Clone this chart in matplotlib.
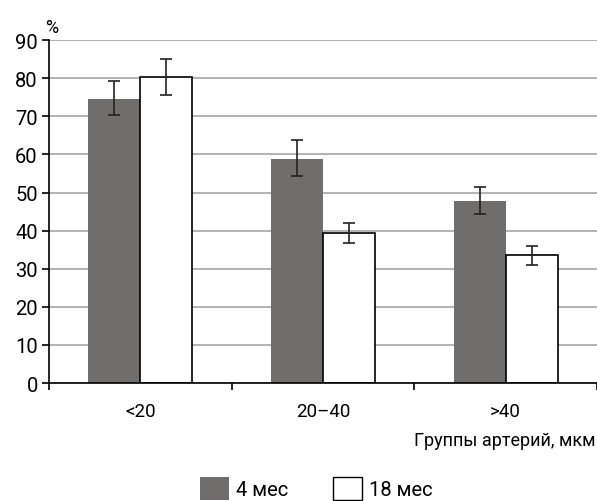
import numpy as np
import matplotlib.pyplot as plt
from matplotlib.patches import Patch

plt.rcParams['font.family'] = ['Roboto', 'DejaVu Sans']

groups = ['<20', '20–40', '>40']
m4 = [74.5, 58.8, 47.8]
m4_err_lo = [70.3, 54.3, 44.4]
m4_err_hi = [79.3, 63.8, 51.4]
m18 = [80.3, 39.5, 33.6]
m18_err_lo = [75.5, 36.7, 31.0]
m18_err_hi = [85.0, 42.1, 36.1]

gray = '#6f6e6c'

fig = plt.figure(figsize=(5.97, 5.02), dpi=100)
ax = fig.add_axes([0.082, 0.235, 0.918, 0.683])

x = np.arange(len(groups))
w = 0.285
m4 = np.array(m4)
m18 = np.array(m18)
e4 = [m4 - np.array(m4_err_lo), np.array(m4_err_hi) - m4]
e18 = [m18 - np.array(m18_err_lo), np.array(m18_err_hi) - m18]

ax.bar(x - w / 2, m4, w, color=gray, edgecolor='none', zorder=2)
ax.bar(x + w / 2, m18, w, color='white', edgecolor='black', linewidth=1.2, zorder=2)
ax.errorbar(x - w / 2, m4, yerr=e4, fmt='none', ecolor='#222222', elinewidth=1.2,
            capsize=4, capthick=1.2, zorder=3)
ax.errorbar(x + w / 2, m18, yerr=e18, fmt='none', ecolor='#222222', elinewidth=1.2,
            capsize=4, capthick=1.2, zorder=3)

ax.set_xlim(-0.5, 2.5)
ax.set_ylim(0, 90)
ax.set_yticks(range(0, 91, 10))
ax.set_xticks(x)
ax.set_xticklabels(groups, fontsize=13.5)
ax.set_xticks([-0.5, 0.5, 1.5, 2.5], minor=True)
ax.tick_params(axis='x', which='major', length=0, pad=14)
ax.tick_params(axis='x', which='minor', length=5, width=1.2, direction='out')
ax.tick_params(axis='y', labelsize=14.5, length=5, width=1.2, pad=3)

ax.yaxis.grid(True, color='#a6a6a6', linewidth=1.2, zorder=0)
ax.set_axisbelow(True)
for s in ['top', 'right']:
    ax.spines[s].set_visible(False)
ax.spines['left'].set_linewidth(1.2)
ax.spines['bottom'].set_linewidth(1.2)

fig.text(0.075, 0.945, '%', fontsize=13, ha='left', va='center')
fig.text(0.998, 0.122, 'Группы артерий, мкм', fontsize=13, ha='right', va='center')

handles = [Patch(facecolor=gray, edgecolor='none', label='4 мес'),
           Patch(facecolor='white', edgecolor='black', linewidth=1.0, label='18 мес')]
fig.legend(handles=handles, ncol=2, loc='center', bbox_to_anchor=(0.53, 0.025),
           frameon=False, fontsize=14.5, handlelength=1.45, handleheight=1.4,
           handletextpad=0.35, columnspacing=2.2)

fig.savefig('out.png', dpi=100)
